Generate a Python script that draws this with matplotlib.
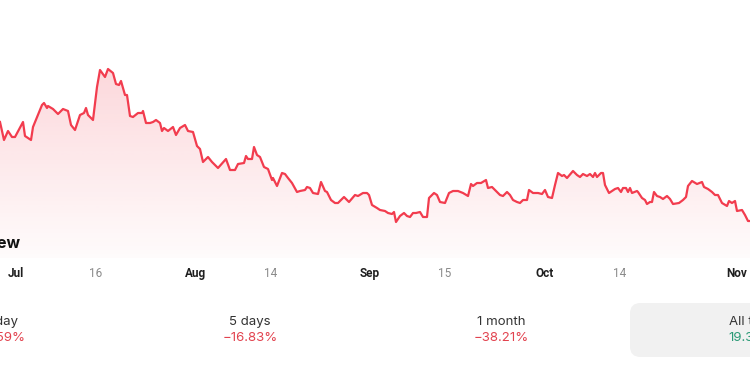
import numpy as np
import matplotlib
matplotlib.use("Agg")
import matplotlib.pyplot as plt
from matplotlib.patches import FancyBboxPatch

# ---- data (trading-step index vs price) ----
t = [
    -3.2, -2.4, -1.6, -0.8, -0.2, 1.4, 1.8, 3.0, 3.4, 5.2,
    5.6, 6.2, 6.4, 7.4, 8.4, 9.4, 10.4, 11.0, 11.8, 12.8,
    13.6, 14.0, 14.4, 15.4, 16.2, 16.8, 17.8, 18.4, 19.4, 20.0,
    20.6, 21.0, 21.8, 22.2, 22.8, 23.4, 24.4, 25.2, 25.4, 26.0,
    26.8, 27.4, 28.0, 28.8, 29.2, 29.6, 30.4, 31.4, 32.0, 32.8,
    33.8, 34.4, 35.4, 36.2, 36.8, 37.4, 38.4, 39.2, 40.4, 42.0,
    42.8, 43.8, 44.4, 45.6, 46.0, 46.4, 47.2, 47.6, 48.2, 48.8,
    49.6, 50.4, 51.2, 51.4, 52.2, 53.2, 53.8, 54.4, 55.2, 56.2,
    56.8, 57.8, 58.2, 58.8, 59.4, 60.4, 61.0, 61.8, 62.2, 63.0,
    63.8, 64.4, 65.6, 66.6, 67.8, 68.4, 69.4, 70.2, 70.6, 71.2,
    72.2, 72.8, 73.8, 74.4, 75.2, 75.6, 76.0, 76.8, 77.6, 78.2,
    78.8, 79.4, 80.0, 80.8, 81.4, 82.2, 82.6, 83.6, 84.2, 84.8,
    85.8, 86.6, 87.4, 88.4, 89.4, 90.4, 91.0, 91.4, 92.2, 93.0,
    94.0, 94.4, 95.2, 95.8, 96.8, 97.4, 98.2, 98.8, 99.4, 100.2,
    100.8, 101.4, 102.2, 102.6, 103.4, 104.4, 105.2, 105.8, 106.4, 107.2,
    107.8, 108.4, 109.2, 109.6, 110.2, 111.4, 112.2, 112.8, 113.4, 114.2,
    114.8, 115.4, 115.8, 116.2, 117.0, 117.4, 117.8, 118.6, 119.2, 119.8,
    120.4, 121.0, 121.4, 122.0, 122.4, 122.8, 123.2, 124.2, 124.4, 125.2,
    125.8, 126.2, 126.8, 127.2, 127.6, 128.2, 128.8, 129.4, 130.2, 130.8,
    131.4, 132.6, 133.4, 134.0, 134.4, 135.2, 136.2, 137.2, 137.6, 138.4,
    139.2, 139.8, 140.4, 141.2, 142.2, 142.6, 143.2, 143.8, 144.2, 145.2,
    145.8, 146.4, 146.8,
]
price = [
    43.6, 41.8, 42.7, 42.1, 42.1, 43.6, 42.2, 41.8, 43.1, 45.3,
    45.5, 45.0, 45.2, 44.9, 44.4, 44.9, 44.7, 43.3, 42.8, 44.3,
    44.5, 45.0, 44.3, 43.8, 47.1, 48.8, 48.1, 48.9, 48.5, 47.4,
    47.3, 47.7, 46.3, 46.3, 44.2, 44.1, 44.5, 44.5, 44.7, 43.5,
    43.5, 43.6, 43.8, 43.5, 42.7, 43.0, 42.7, 43.1, 42.3, 43.0,
    43.3, 42.7, 42.6, 41.2, 40.9, 39.6, 40.1, 39.6, 39.0, 39.9,
    38.8, 38.8, 39.4, 39.5, 40.2, 39.9, 39.9, 41.1, 40.3, 40.1,
    39.1, 38.9, 37.8, 38.0, 37.2, 38.5, 38.4, 38.0, 37.5, 36.6,
    36.7, 36.8, 37.1, 37.0, 36.5, 36.4, 37.6, 36.7, 36.6, 35.8,
    35.5, 35.5, 36.1, 35.6, 36.3, 36.2, 36.5, 36.5, 36.3, 35.3,
    35.0, 34.8, 34.7, 34.5, 34.4, 34.6, 33.6, 34.2, 34.5, 34.2,
    34.1, 34.5, 34.5, 34.6, 34.1, 34.1, 36.0, 36.5, 36.3, 35.6,
    35.5, 36.5, 36.7, 36.7, 36.5, 36.2, 37.4, 37.2, 37.5, 37.5,
    37.8, 37.0, 37.1, 36.8, 36.3, 36.2, 36.6, 36.3, 35.8, 35.6,
    35.5, 35.8, 35.8, 36.8, 36.5, 36.5, 36.4, 36.8, 36.1, 36.0,
    37.3, 38.5, 38.2, 38.3, 38.0, 38.7, 38.3, 38.1, 38.4, 38.2,
    38.4, 38.1, 38.5, 38.1, 38.5, 38.5, 37.3, 36.5, 36.7, 36.9,
    37.0, 36.6, 37.0, 37.0, 36.6, 37.0, 36.5, 36.7, 36.6, 36.0,
    35.8, 35.4, 35.6, 35.6, 36.6, 36.2, 36.1, 35.9, 36.2, 35.9,
    35.4, 35.5, 35.8, 36.1, 37.2, 37.7, 37.4, 37.6, 37.1, 36.9,
    36.6, 36.3, 36.3, 35.5, 35.2, 35.7, 35.5, 35.7, 34.7, 34.8,
    34.3, 33.7, 33.7,
]
tick_pos = [0, 16, 36, 51, 70.8, 85.8, 105.8, 120.8, 144.2]
tick_labels = ["Jul", "16", "Aug", "14", "Sep", "15", "Oct", "14", "Nov"]
tick_is_month = [True, False, True, False, True, False, True, False, True]

periods = ["1 day", "5 days", "1 month", "All time"]
changes = ["\u22121.59%", "\u221216.83%", "\u221238.21%", "19.33%"]
title = "Overview"

# ---- style ----
W, H = 750, 375
LINE = "#f23c4e"
RED_TXT = "#e2434f"
GREEN_TXT = "#2a9a76"
FONT = ["Inter", "DejaVu Sans"]

fig = plt.figure(figsize=(7.5, 3.75), dpi=100)
fig.patch.set_facecolor("white")

def px(x, y):
    return x / W, 1 - y / H

ax_bottom_px = 258
ax = fig.add_axes([0, 1 - ax_bottom_px / H, 1, ax_bottom_px / H])
ax.set_facecolor("none")
ylo, yhi = 30.0, 55.8
ax.set_xlim(-3.2, 146.8)
ax.set_ylim(ylo, yhi)

tt = np.array(t)
pp = np.array(price)

# gradient fill under line
poly = ax.fill_between(tt, pp, ylo, color="none", lw=0)
n = 256
grad = np.zeros((n, 1, 4))
rgb = matplotlib.colors.to_rgb(LINE)
grad[:, 0, 0] = rgb[0]
grad[:, 0, 1] = rgb[1]
grad[:, 0, 2] = rgb[2]
grad[:, 0, 3] = np.linspace(0.02, 0.2, n)
img = ax.imshow(grad, extent=[-3.2, 146.8, ylo, pp.max()], aspect="auto",
                origin="lower", zorder=1, interpolation="bilinear")
img.set_clip_path(poly.get_paths()[0], transform=ax.transData)

ax.plot(tt, pp, color=LINE, lw=1.6, zorder=3, solid_joinstyle="round")

for s in ax.spines.values():
    s.set_visible(False)
ax.set_yticks([])
ax.set_xticks(tick_pos)
ax.set_xticklabels(tick_labels)
ax.tick_params(axis="x", length=0, pad=6.5)
for lab, is_m in zip(ax.get_xticklabels(), tick_is_month):
    lab.set_fontfamily(["Roboto", "DejaVu Sans"])
    lab.set_fontsize(8.5)
    if is_m:
        lab.set_fontweight("bold")
        lab.set_color("#1f1f1f")
    else:
        lab.set_color("#8a8a8a")

# title (cut off at the left edge)
fig.text(*px(20, 248), title, ha="right", va="baseline", fontsize=11.5,
         fontweight="bold", color="#111111", family=FONT)

# gray box for "All time"
box = FancyBboxPatch(px(630, 357), 160 / W, 54 / H,
                     boxstyle="round,pad=0,rounding_size=0.014",
                     transform=fig.transFigure, facecolor="#f1f1f1",
                     edgecolor="none", mutation_aspect=2)
fig.patches.append(box)

centers = [2, 250, 501, 752]
for cx, lab, val in zip(centers, periods, changes):
    fig.text(*px(cx, 322), lab, ha="center", va="center", fontsize=9.5,
             color="#333333", family=FONT)
    col = GREEN_TXT if not val.startswith("\u2212") else RED_TXT
    fig.text(*px(cx, 338), val, ha="center", va="center", fontsize=9.5,
             color=col, family=FONT)

fig.savefig("out.png", dpi=100)
